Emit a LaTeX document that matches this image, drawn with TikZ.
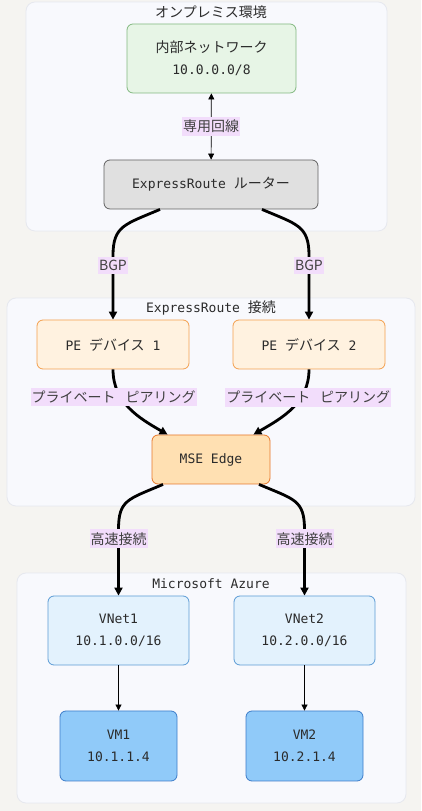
\documentclass[tikz,border=0pt]{standalone}
\usepackage{fontspec}
\setmonofont{DejaVu Sans Mono}
\newfontfamily\jpfont{Noto Sans CJK JP}
\usetikzlibrary{positioning,arrows.meta}

\definecolor{bgc}{HTML}{F5F4F1}
\definecolor{grpfill}{HTML}{F8F9FD}
\definecolor{grpline}{HTML}{E6E8EF}
\definecolor{lblfill}{HTML}{F2DDFB}
\definecolor{netfill}{HTML}{E7F5E6}
\definecolor{netline}{HTML}{82B880}
\definecolor{rtrfill}{HTML}{E0E0E0}
\definecolor{rtrline}{HTML}{616161}
\definecolor{pefill}{HTML}{FFF2E0}
\definecolor{peline}{HTML}{F4A04E}
\definecolor{msefill}{HTML}{FFE0B2}
\definecolor{mseline}{HTML}{E8782A}
\definecolor{vnfill}{HTML}{E3F2FD}
\definecolor{vnline}{HTML}{5B9BD5}
\definecolor{vmfill}{HTML}{90CAF9}
\definecolor{vmline}{HTML}{3D7CC9}
\definecolor{txt}{HTML}{2B2B2B}

\newcommand\jtxt[1]{{\jpfont\fontsize{14}{17}\selectfont #1}}

\begin{document}
\begin{tikzpicture}[x=1pt, y=1pt,
  grp/.style={draw=grpline, fill=grpfill, rounded corners=9pt, line width=0.8pt},
  gt/.style={font=\ttfamily\fontsize{13}{16}\selectfont, text=txt},
  bx/.style={draw=#1line, fill=#1fill, rounded corners=6pt, line width=0.8pt,
             font=\ttfamily\fontsize{13}{16}\selectfont, text=txt,
             align=center, inner sep=0pt},
  lb/.style={fill=lblfill, font=\jpfont\fontsize{14}{17}\selectfont, text=txt!90,
             inner xsep=1pt, inner ysep=3pt},
  ar/.style={-{Triangle[length=8pt,width=8pt]}, line width=2.8pt},
  tn/.style={-{Triangle[length=6pt,width=6pt]}, line width=0.7pt}
]
\useasboundingbox (0,0) rectangle (421,811);
\fill[bgc] (0,0) rectangle (421,811);

% groups
\draw[grp] (26,580) rectangle (387,809);
\draw[grp] (7,305) rectangle (415,513);
\draw[grp] (17,8) rectangle (406,238);
\node[gt] (onpT) at (211,799) {\jtxt{オンプレミス環境}};
\node[gt] (erT)  at (211,503) {ExpressRoute \jtxt{接続}};
\node[gt] (azT)  at (211,227) {Microsoft Azure};

% nodes
\node[bx=net, minimum width=169pt, minimum height=69pt] (net) at (211.5,752.5)
  {\jtxt{内部ネットワーク}\\[6pt]10.0.0.0/8};
\node[bx=rtr, minimum width=214pt, minimum height=49pt] (rtr) at (211,626.5)
  {ExpressRoute \jtxt{ルーター}};
\node[bx=pe, minimum width=152pt, minimum height=49pt] (pe1) at (113,466.5)
  {PE \jtxt{デバイス} 1};
\node[bx=pe, minimum width=152pt, minimum height=49pt] (pe2) at (309,466.5)
  {PE \jtxt{デバイス} 2};
\node[bx=mse, minimum width=118pt, minimum height=49pt] (mse) at (211,351.5)
  {MSE Edge};
\node[bx=vn, minimum width=141pt, minimum height=69pt] (vn1) at (118.5,180.5)
  {VNet1\\[6pt]10.1.0.0/16};
\node[bx=vn, minimum width=141pt, minimum height=69pt] (vn2) at (304.5,180.5)
  {VNet2\\[6pt]10.2.0.0/16};
\node[bx=vm, minimum width=117pt, minimum height=70pt] (vm1) at (118.5,65)
  {VM1\\[6pt]10.1.1.4};
\node[bx=vm, minimum width=117pt, minimum height=70pt] (vm2) at (304.5,65)
  {VM2\\[6pt]10.2.1.4};

% connectors
\draw[{Triangle[length=6pt,width=6pt]}-{Triangle[length=6pt,width=6pt]}, line width=0.7pt]
  (net) -- node[lb] {専用回線} (rtr);

\draw[ar] ([xshift=-51pt]rtr.south) .. controls +(-35,-15) and +(0,30) .. ([yshift=64pt]pe1.north)
  -- node[lb, pos=0.15] {BGP} (pe1.north);
\draw[ar] ([xshift=51pt]rtr.south) .. controls +(35,-15) and +(0,30) .. ([yshift=64pt]pe2.north)
  -- node[lb, pos=0.15] {BGP} (pe2.north);

\draw[ar] (pe1.south) to[out=-90, in=150]
  node[lb, pos=0.33, xshift=-7pt] {プライベート\hspace{0.7em}ピアリング} ([xshift=16pt]mse.north west);
\draw[ar] (pe2.south) to[out=-90, in=30]
  node[lb, pos=0.33, xshift=7pt] {プライベート\hspace{0.7em}ピアリング} ([xshift=-17pt]mse.north east);

\draw[ar] ([xshift=-48pt]mse.south) .. controls +(-35,-15) and +(0,30) .. ([yshift=66pt]vn1.north)
  -- node[lb, pos=0.14] {高速接続} (vn1.north);
\draw[ar] ([xshift=48pt]mse.south) .. controls +(35,-15) and +(0,30) .. ([yshift=66pt]vn2.north)
  -- node[lb, pos=0.14] {高速接続} (vn2.north);

\draw[tn] (vn1) -- (vm1);
\draw[tn] (vn2) -- (vm2);
\end{tikzpicture}
\end{document}
